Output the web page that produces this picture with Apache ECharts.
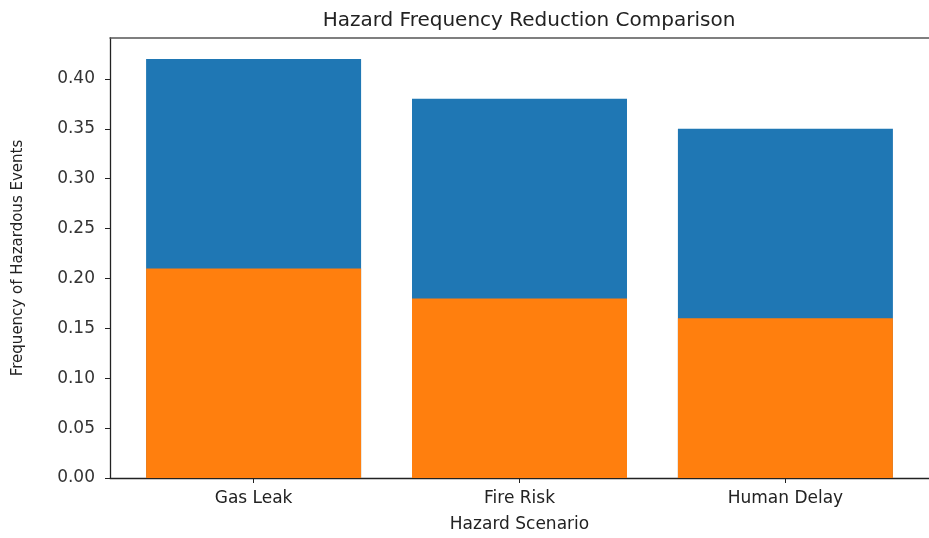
<!DOCTYPE html>
<html>
<head>
<meta charset="utf-8">
<script src="https://cdn.jsdelivr.net/npm/echarts@6/dist/echarts.min.js"></script>
<style>html,body{margin:0;padding:0;background:#fff}#c{width:929px;height:538px}</style>
</head>
<body>
<div id="c"></div>
<script>
const categories = ['Gas Leak', 'Fire Risk', 'Human Delay'];
const beforeValues = [0.42, 0.38, 0.35];
const afterValues = [0.21, 0.18, 0.16];
const yTicks = [0, 0.05, 0.10, 0.15, 0.20, 0.25, 0.30, 0.35, 0.40];
const xTicks = [0, 1, 2];

const font = 'DejaVu Sans';
const chart = echarts.init(document.getElementById('c'));
chart.setOption({
  backgroundColor: '#fff',
  animation: false,
  title: {
    text: 'Hazard Frequency Reduction Comparison',
    left: 524, top: 6, textAlign: 'center',
    textStyle: { fontFamily: font, fontSize: 20, fontWeight: 'normal', color: '#222' }
  },
  grid: { left: 110, right: -9, top: 38, bottom: 54, containLabel: false },
  xAxis: [{
    type: 'value', min: -0.54, max: 2.54, position: 'bottom',
    name: 'Hazard Scenario', nameLocation: 'middle', nameGap: 38,
    nameTextStyle: { fontFamily: font, fontSize: 17, color: '#222' },
    axisLine: { show: true, onZero: false, lineStyle: { color: '#222', width: 1.3 } },
    axisTick: { show: true, length: 5, customValues: xTicks, lineStyle: { color: '#222' } },
    axisLabel: { customValues: xTicks, margin: 12, fontFamily: font, fontSize: 17, color: '#222',
      formatter: v => categories[Math.round(v)] },
    splitLine: { show: false }
  }, {
    type: 'value', min: -0.54, max: 2.54, position: 'top',
    axisLine: { show: true, onZero: false, lineStyle: { color: '#555', width: 1.5 } },
    axisTick: { show: false }, axisLabel: { show: false }, splitLine: { show: false }
  }],
  yAxis: {
    type: 'value', min: 0, max: 0.441, position: 'left',
    name: 'Frequency of Hazardous Events', nameLocation: 'middle', nameGap: 84,
    nameTextStyle: { fontFamily: font, fontSize: 15, color: '#222' },
    axisLine: { show: true, onZero: false, lineStyle: { color: '#222', width: 1.3 } },
    axisTick: { show: true, length: 5, customValues: yTicks, lineStyle: { color: '#222' } },
    axisLabel: { customValues: yTicks, margin: 15, fontFamily: font, fontSize: 17, color: '#333',
      formatter: v => v.toFixed(2) },
    splitLine: { show: false }
  },
  series: [{
    type: 'bar', name: 'Before', xAxisIndex: 0,
    data: beforeValues.map((v, i) => [i, v]),
    barWidth: 215, barGap: '-100%',
    itemStyle: { color: '#1f77b4' }
  }, {
    type: 'bar', name: 'After', xAxisIndex: 0,
    data: afterValues.map((v, i) => [i, v]),
    barWidth: 215, barGap: '-100%',
    itemStyle: { color: '#ff7f0e' }
  }]
});
</script>
</body>
</html>
